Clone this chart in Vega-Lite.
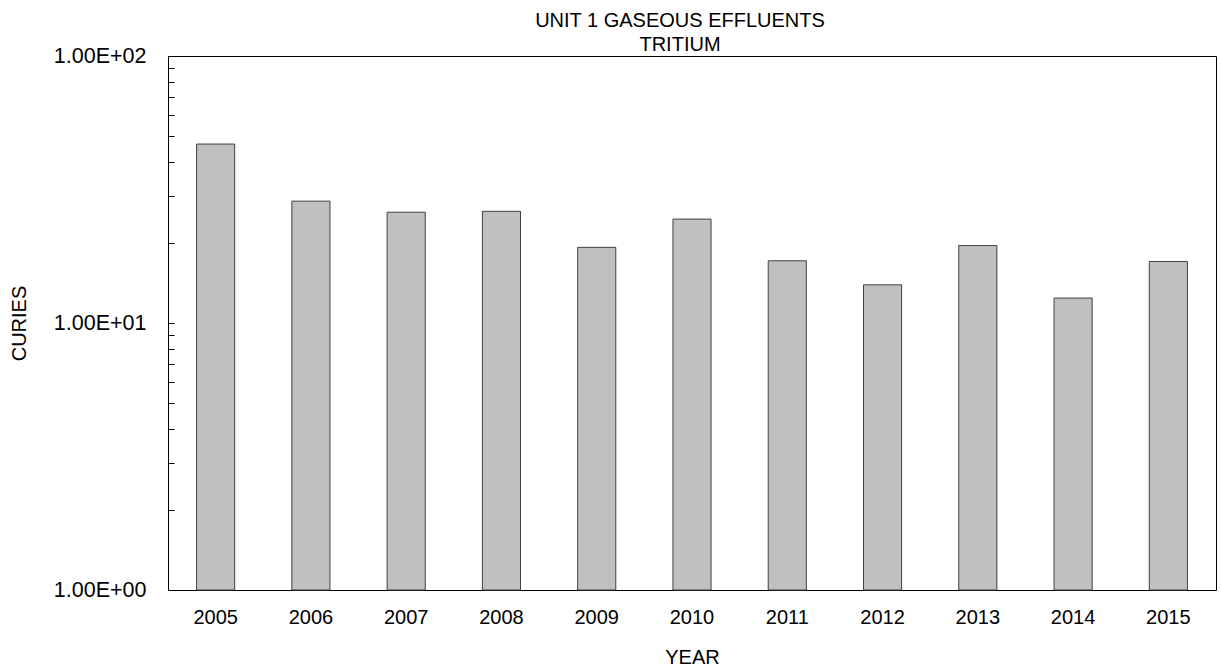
{
  "$schema": "https://vega.github.io/schema/vega-lite/v6.json",
  "width": 1048,
  "height": 534,
  "autosize": {"type": "none"},
  "padding": {"left": 168, "top": 56, "right": 5, "bottom": 81},
  "background": "white",
  "config": {
    "font": "Liberation Sans",
    "view": {"stroke": "#000000", "strokeWidth": 1},
    "axis": {"labelFont": "Liberation Sans", "titleFont": "Liberation Sans", "labelColor": "#000", "titleColor": "#000", "titleFontWeight": "normal", "grid": false}
  },
  "title": {
    "text": ["UNIT 1 GASEOUS EFFLUENTS", "TRITIUM"],
    "font": "Liberation Sans",
    "fontSize": 20,
    "fontWeight": "normal",
    "color": "#000",
    "lineHeight": 24,
    "offset": 2,
    "anchor": "middle",
    "dx": -12,
    "dy": 12
  },
  "data": {
    "values": [
      {"year": "2005", "curies": 46.8},
      {"year": "2006", "curies": 28.6},
      {"year": "2007", "curies": 26.0},
      {"year": "2008", "curies": 26.2},
      {"year": "2009", "curies": 19.2},
      {"year": "2010", "curies": 24.5},
      {"year": "2011", "curies": 17.1},
      {"year": "2012", "curies": 13.9},
      {"year": "2013", "curies": 19.5},
      {"year": "2014", "curies": 12.4},
      {"year": "2015", "curies": 17.0}
    ]
  },
  "mark": {"type": "bar", "fill": "#c0c0c0", "stroke": "#404040", "strokeWidth": 1},
  "encoding": {
    "x": {
      "field": "year",
      "type": "ordinal",
      "scale": {"paddingInner": 0.6, "paddingOuter": 0.3},
      "axis": {
        "title": "YEAR",
        "labelAngle": 0,
        "labelFontSize": 20,
        "titleFontSize": 20,
        "ticks": false,
        "domain": false,
        "labelPadding": 17,
        "titlePadding": 20
      }
    },
    "y": {
      "field": "curies",
      "type": "quantitative",
      "scale": {"type": "log", "domain": [1, 100]},
      "axis": {
        "title": "CURIES",
        "values": [1, 2, 3, 4, 5, 6, 7, 8, 9, 10, 20, 30, 40, 50, 60, 70, 80, 90, 100],
        "labelExpr": "datum.value == 100 ? '1.00E+02' : datum.value == 10 ? '1.00E+01' : datum.value == 1 ? '1.00E+00' : ''",
        "labelFontSize": 21.5,
        "titleFontSize": 20,
        "tickSize": -6,
        "tickColor": "#000",
        "domain": false,
        "labelPadding": 28,
        "titlePadding": 24,
        "labelOverlap": false,
        "labelBound": false
      }
    },
    "y2": {"datum": 1}
  }
}
